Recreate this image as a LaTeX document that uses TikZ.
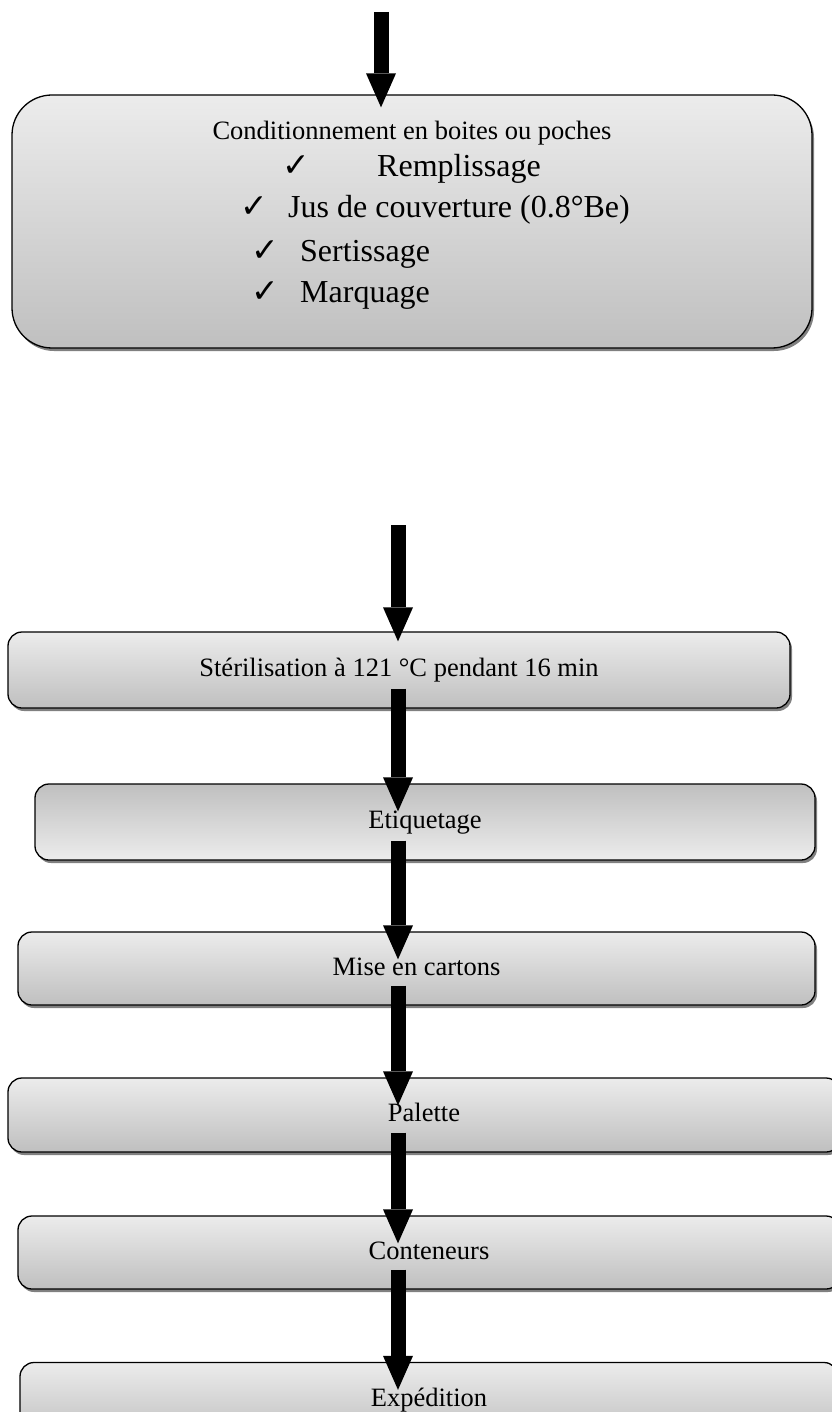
\documentclass[tikz,border=0pt]{standalone}
\usepackage{fontspec}
\setmainfont{Liberation Serif}
\newfontfamily\tickfont{DejaVu Sans}
\usetikzlibrary{arrows.meta, calc, shadows}
\tikzset{
  stepbox/.style={draw=black, line width=1.3pt, rounded corners=14pt,
    top color=gray!15, bottom color=gray!50,
    general shadow={shadow xshift=2pt, shadow yshift=-3pt, fill=black!50},
    inner sep=0pt, text height=19pt, text depth=6pt,
    font=\fontsize{26.5}{30}\selectfont},
  flow/.style={line width=15pt, -{Triangle[width=30pt, length=34pt, line width=0pt]}},
  item/.style={anchor=base west, inner sep=0pt, font=\fontsize{32}{36}\selectfont},
  tick/.style={anchor=base west, inner sep=0pt, font=\tickfont\fontsize{33}{36}\selectfont},
}
\begin{document}
\begin{tikzpicture}[x=1pt, y=-1pt]
  \useasboundingbox (0,0) rectangle (831,1412);
  % boxes
  \node[stepbox, rounded corners=40pt, minimum width=800pt, minimum height=253pt] (cond) at (412,221.5) {};
  \node[anchor=base, inner sep=0pt, font=\fontsize{26.5}{30}\selectfont] (condtitle) at (412,140) {Conditionnement en boites ou poches};
  \node[tick] (t1) at (282,177) {✓};
  \node[item] (l1) at (377,177) {Remplissage};
  \node[tick] (t2) at (240,218) {✓};
  \node[item] (l2) at (288,218) {Jus de couverture (0.8°Be)};
  \node[tick] (t3) at (251,262) {✓};
  \node[item] (l3) at (300,262) {Sertissage};
  \node[tick] (t4) at (251,302) {✓};
  \node[item] (l4) at (300,302) {Marquage};

  \node[stepbox, minimum width=782pt, minimum height=76pt] (steril) at (399,670) {Stérilisation à 121 °C pendant 16 min};
  \node[stepbox, top color=gray!50, bottom color=gray!15, minimum width=780pt, minimum height=76pt] (etiq) at (425,822) {Etiquetage};
  \node[stepbox, minimum width=797pt, minimum height=73pt] (cartons) at (416.5,968.5) {Mise en cartons};
  \node[stepbox, minimum width=832pt, minimum height=74pt] (palette) at (424,1115) {Palette};
  \node[stepbox, minimum width=822pt, minimum height=73pt] (conten) at (429,1252.5) {Conteneurs};
  \node[stepbox, minimum width=818pt, minimum height=75pt] (exped) at (429,1400) {Expédition};

  % arrows
  \coordinate (in0) at (381,12);
  \coordinate (in1) at (398,525);
  \coordinate (ax) at (398,0);
  \draw[flow] (in0) -- ($(in0 |- cond.north)+(0,13)$);
  \draw[flow] (in1) -- ($(in1 |- steril.north)+(0,10)$);
  \foreach \a/\b in {steril/etiq, etiq/cartons, cartons/palette, palette/conten, conten/exped}
    \draw[flow] ($(ax |- \a.south)+(0,-20)$) -- ($(ax |- \b.north)+(0,28)$);
\end{tikzpicture}
\end{document}
